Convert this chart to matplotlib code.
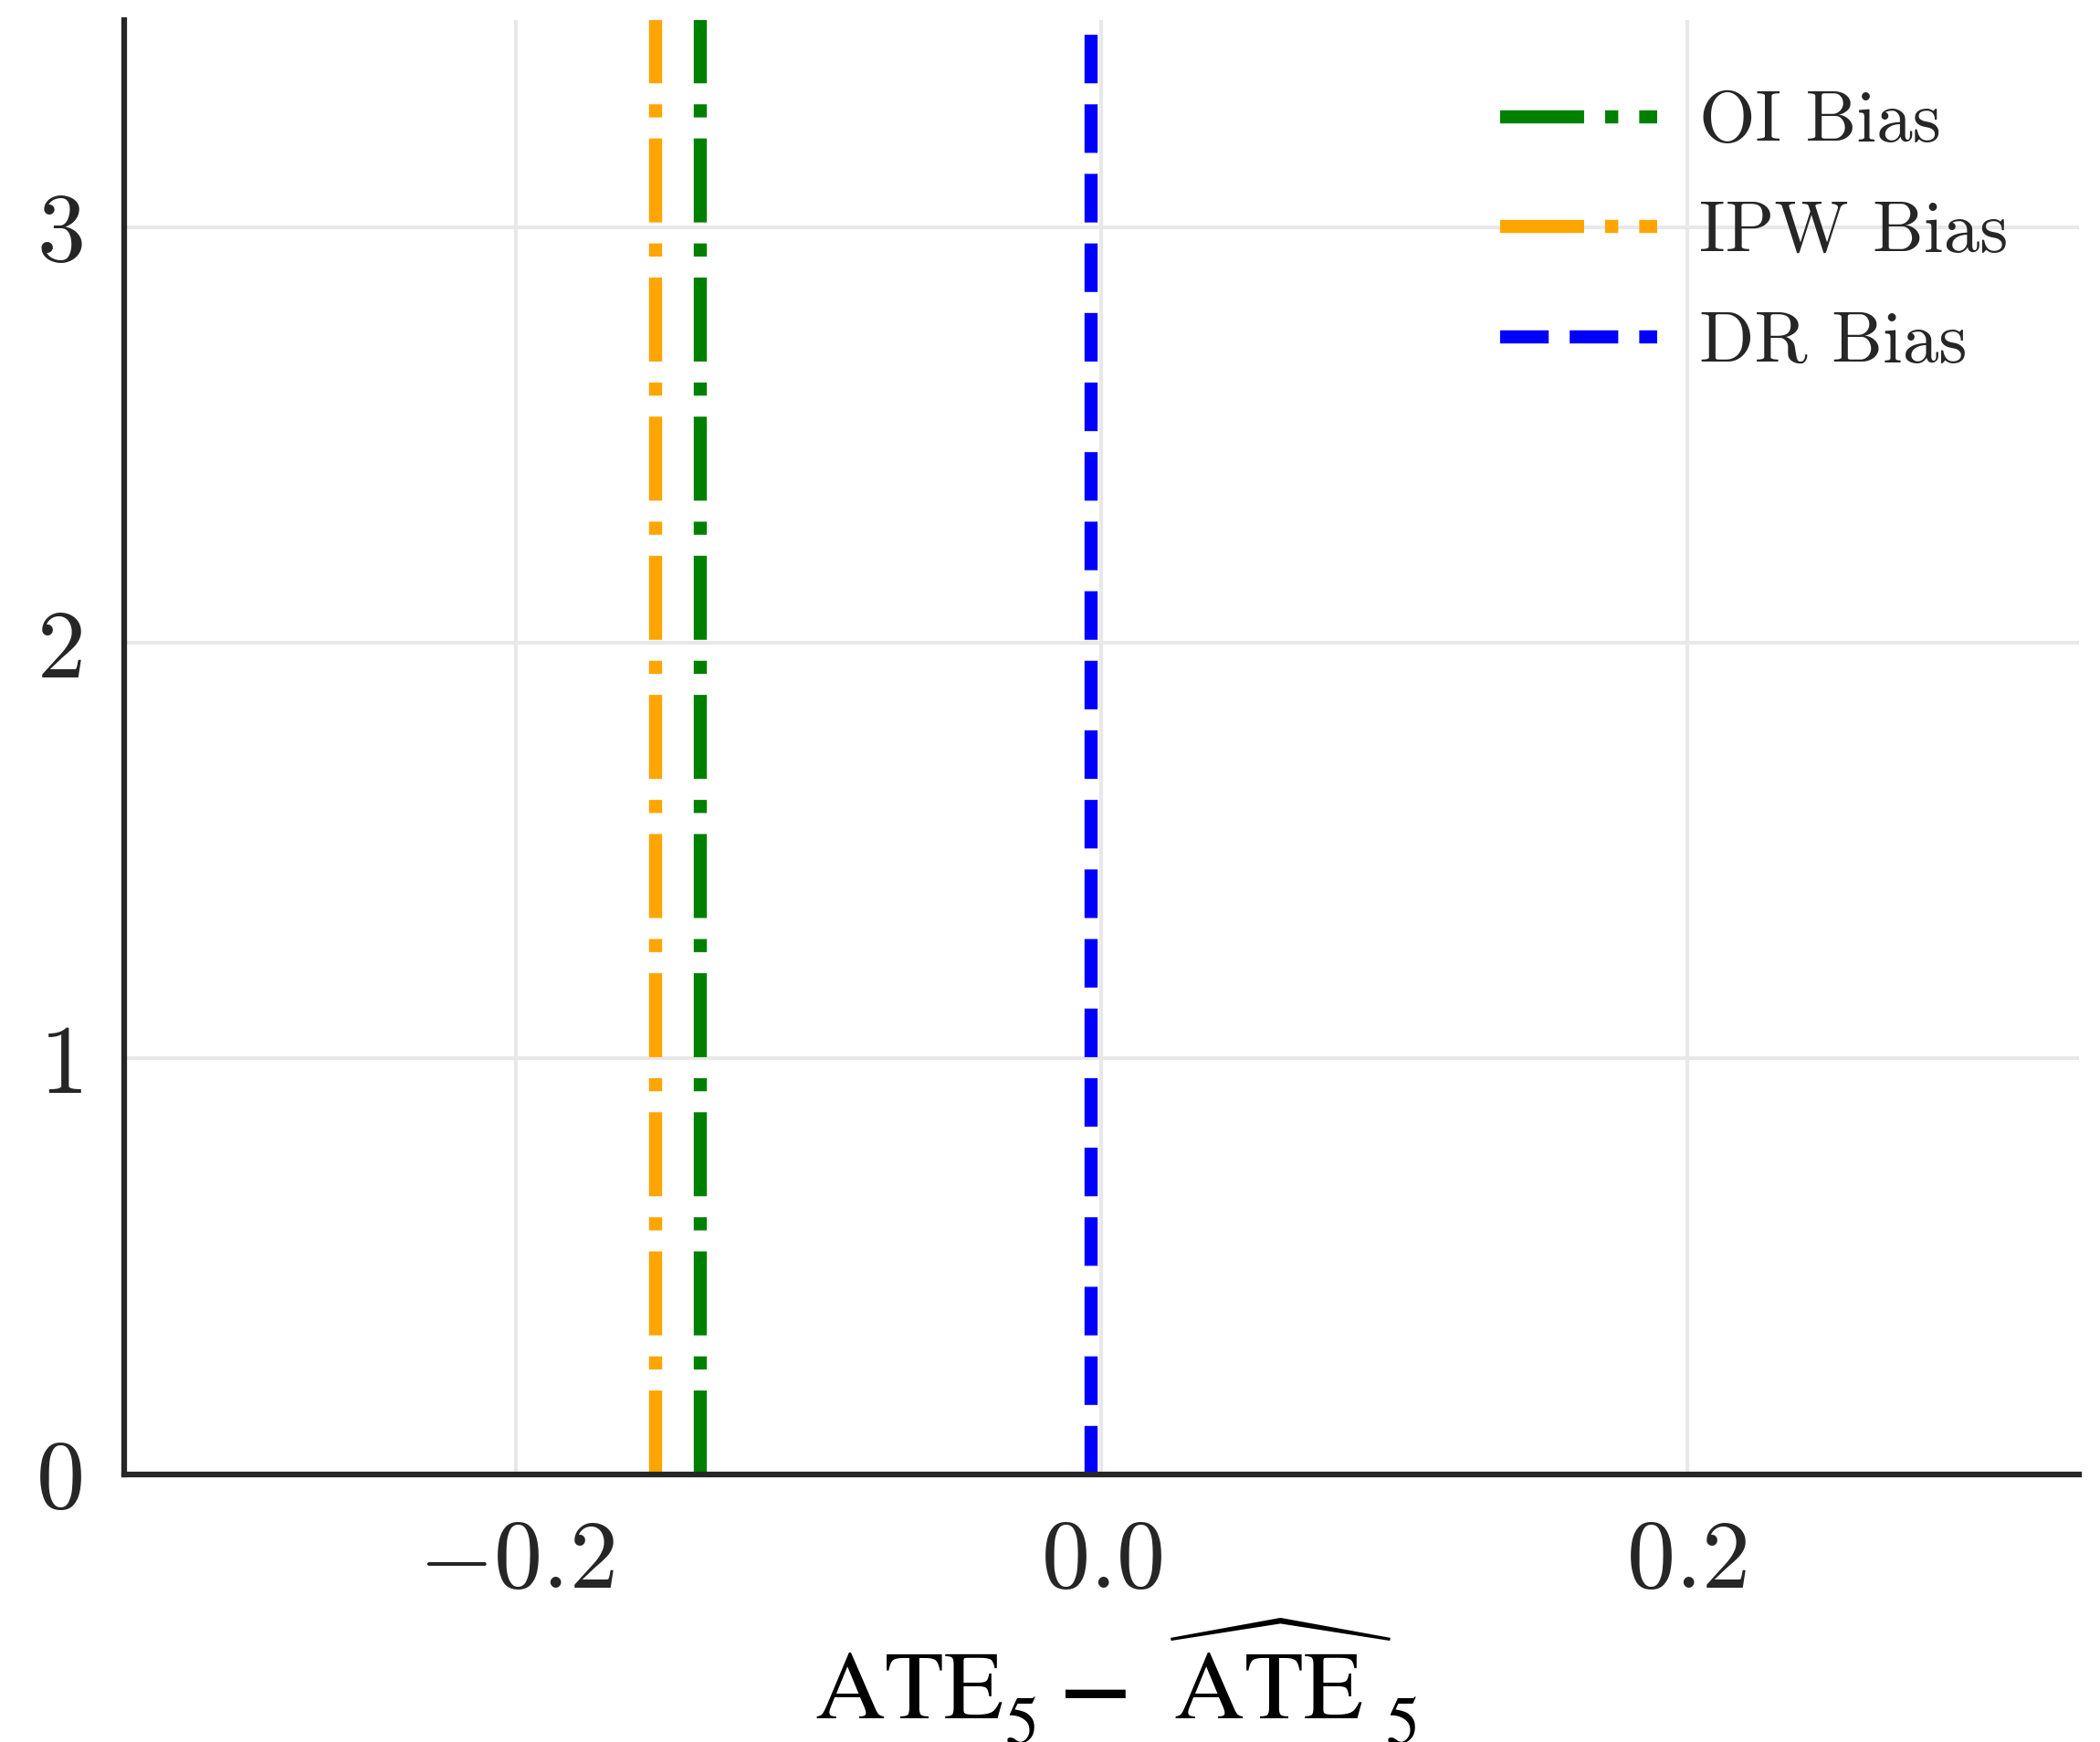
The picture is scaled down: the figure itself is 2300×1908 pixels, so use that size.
import matplotlib
matplotlib.use("Agg")
import matplotlib.pyplot as plt

methods = ["OI Bias", "IPW Bias", "DR Bias"]
biases = [-0.137, -0.1525, -0.0037]
xticks = [-0.2, 0.0, 0.2]
yticks = [0, 1, 2, 3]
xlim = (-0.334, 0.334)
ylim = (0, 3.5)
xlabel = r"$\mathrm{ATE}^{\,}_5\:\mathbf{-}\,\widehat{\;\,\mathrm{ATE}}^{\,}_{\;\,5}$"

colors = ["green", "orange", "blue"]
styles = ["-.", "-.", "--"]

plt.rcParams.update({
    "font.family": "serif",
    "font.serif": ["cmr10"],
    "mathtext.fontset": "cm",
    "axes.formatter.use_mathtext": True,
    "axes.unicode_minus": True,
})

W, H = 2300, 1908
ax_left, ax_right, ax_top, ax_bottom = 136, 2277, 21.7, 1614.5

fig = plt.figure(figsize=(W / 300, H / 300), dpi=300)
ax = fig.add_axes([ax_left / W, 1 - ax_bottom / H, (ax_right - ax_left) / W, (ax_bottom - ax_top) / H])

for m, b, c, s in zip(methods, biases, colors, styles):
    ax.axvline(b, color=c, linestyle=s, linewidth=3.45, label=m)

ax.set_xlim(*xlim)
ax.set_ylim(*ylim)
ax.set_xticks(xticks)
ax.set_yticks(yticks)
ax.grid(True, color="#e8e8e8", linewidth=1.0)
ax.set_axisbelow(True)
for side in ["top", "right"]:
    ax.spines[side].set_visible(False)
for side in ["left", "bottom"]:
    ax.spines[side].set_color("#262626")
    ax.spines[side].set_linewidth(1.5)
ax.tick_params(axis="both", length=0, labelsize=25.5, labelcolor="#262626")
ax.tick_params(axis="x", pad=12)
ax.tick_params(axis="y", pad=11)

ax.set_xlabel(xlabel, fontsize=25.5, color="black", math_fontfamily="stix")
ax.xaxis.set_label_coords(0.5075, -0.0976)

leg = ax.legend(loc="upper right", frameon=False, fontsize=19,
                handlelength=2.18, handletextpad=0.57, labelspacing=0.62,
                borderaxespad=0.585)
for t in leg.get_texts():
    t.set_color("#262626")

fig.savefig("out.png", dpi=300)
